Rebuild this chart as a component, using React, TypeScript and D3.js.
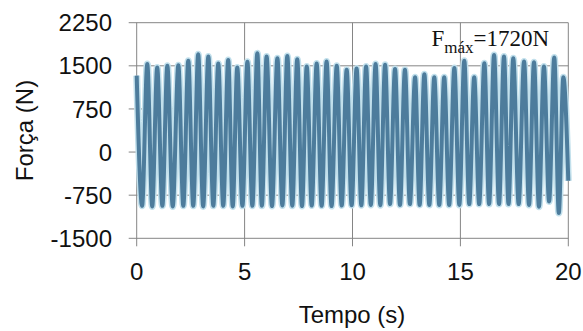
import { useEffect, useRef } from 'react'
import * as d3 from 'd3'

const xTicks = [0, 5, 10, 15, 20]
const yTicks = [-1500, -750, 0, 750, 1500, 2250]

// peak times (s) and forces (N)
const peakTimes = [
  0, 0.49, 0.95, 1.42, 1.93, 2.39, 2.85, 3.32, 3.78, 4.24, 4.66, 5.13, 5.59, 6.02, 6.52,
  6.98, 7.44, 7.88, 8.34, 8.8, 9.27, 9.73, 10.19, 10.63, 11.07, 11.51, 11.97, 12.43, 12.9,
  13.33, 13.79, 14.25, 14.72, 15.18, 15.64, 16.11, 16.56, 17.02, 17.45, 17.95, 18.41,
  18.87, 19.35, 19.77,
]
const peakValues = [
  1330, 1530, 1470, 1500, 1510, 1590, 1700, 1660, 1540, 1600, 1470, 1570, 1720, 1660, 1630,
  1670, 1615, 1490, 1540, 1575, 1500, 1430, 1455, 1490, 1530, 1520, 1445, 1430, 1300,
  1355, 1300, 1300, 1460, 1590, 1300, 1545, 1690, 1660, 1630, 1575, 1560, 1490, 1645, 1300,
]

const troughTimes = [
  0.25, 0.72, 1.19, 1.67, 2.16, 2.62, 3.08, 3.55, 4.01, 4.45, 4.9, 5.36, 5.8, 6.27, 6.75,
  7.21, 7.66, 8.11, 8.57, 9.03, 9.5, 9.96, 10.41, 10.85, 11.29, 11.74, 12.2, 12.66, 13.11,
  13.56, 14.02, 14.48, 14.95, 15.41, 15.87, 16.33, 16.79, 17.23, 17.7, 18.18, 18.64,
  19.11, 19.56,
]
const troughValues = [
  -935, -945, -935, -945, -935, -935, -945, -935, -935, -945, -935, -935, -935, -940, -930,
  -935, -940, -930, -935, -940, -930, -925, -925, -920, -925, -905, -920, -905, -920,
  -920, -920, -920, -920, -905, -905, -905, -905, -905, -905, -920, -950, -860, -1060,
]

const endTime = 20
const endValue = -500

export default function App() {
  const svgRef = useRef<SVGSVGElement>(null)
  const width = 583
  const height = 331

  useEffect(() => {
    if (!svgRef.current) return
    const svg = d3.select(svgRef.current)
    svg.selectAll('*').remove()

    const x = d3.scaleLinear().domain([0, 20]).range([136.7, 568.3])
    const y = d3.scaleLinear().domain([-1500, 2250]).range([238.3, 22.7])

    const gridColor = '#858585'
    const font = 'Liberation Sans, Arial, sans-serif'

    // horizontal gridlines
    svg
      .append('g')
      .selectAll('line')
      .data(yTicks)
      .enter()
      .append('line')
      .attr('x1', x(0) - 8)
      .attr('x2', x(20))
      .attr('y1', (d) => y(d))
      .attr('y2', (d) => y(d))
      .attr('stroke', gridColor)
      .attr('stroke-width', 1)

    // vertical gridlines + ticks
    svg
      .append('g')
      .selectAll('line')
      .data(xTicks)
      .enter()
      .append('line')
      .attr('x1', (d) => x(d))
      .attr('x2', (d) => x(d))
      .attr('y1', y(2250))
      .attr('y2', y(-1500) + 8)
      .attr('stroke', gridColor)
      .attr('stroke-width', 1)

    const pts: [number, number][] = []
    peakTimes.forEach((t, i) => pts.push([t, peakValues[i]]))
    troughTimes.forEach((t, i) => pts.push([t, troughValues[i]]))
    pts.push([endTime, endValue])
    pts.sort((a, b) => a[0] - b[0])

    const line = d3
      .line<[number, number]>()
      .x((d) => x(d[0]))
      .y((d) => y(d[1]))
      .curve(d3.curveMonotoneX)

    svg
      .append('path')
      .datum(pts)
      .attr('d', line)
      .attr('fill', 'none')
      .attr('stroke', '#c2e0ec')
      .attr('stroke-width', 7)
      .attr('stroke-linejoin', 'round')

    svg
      .append('path')
      .datum(pts)
      .attr('d', line)
      .attr('fill', 'none')
      .attr('stroke', '#4d7c9c')
      .attr('stroke-width', 4)
      .attr('stroke-linejoin', 'round')

    // y tick labels
    svg
      .append('g')
      .selectAll('text')
      .data(yTicks)
      .enter()
      .append('text')
      .attr('x', 112)
      .attr('y', (d) => y(d))
      .attr('dy', '0.36em')
      .attr('text-anchor', 'end')
      .style('font-family', font)
      .style('font-size', '24px')
      .style('fill', '#111')
      .text((d) => d)

    // x tick labels
    svg
      .append('g')
      .selectAll('text')
      .data(xTicks)
      .enter()
      .append('text')
      .attr('x', (d) => x(d))
      .attr('y', 280)
      .attr('text-anchor', 'middle')
      .style('font-family', font)
      .style('font-size', '24px')
      .style('fill', '#111')
      .text((d) => d)

    svg
      .append('text')
      .attr('x', 352)
      .attr('y', 323)
      .attr('text-anchor', 'middle')
      .style('font-family', font)
      .style('font-size', '24px')
      .style('fill', '#111')
      .text('Tempo (s)')

    svg
      .append('text')
      .attr('transform', `translate(33,130.5) rotate(-90)`)
      .attr('text-anchor', 'middle')
      .style('font-family', font)
      .style('font-size', '24px')
      .style('fill', '#111')
      .text('Força (N)')

    const ann = svg
      .append('text')
      .attr('x', 431.5)
      .attr('y', 46)
      .style('font-family', 'Liberation Serif, Times New Roman, serif')
      .style('font-size', '23px')
      .style('fill', '#111')
    ann.append('tspan').text('F')
    ann.append('tspan').attr('dy', 7).style('font-size', '17px').text('máx')
    ann.append('tspan').attr('dy', -7).text('=1720N')
  }, [])

  return (
    <svg
      ref={svgRef}
      width={width}
      height={height}
      style={{ position: 'absolute', left: 0, top: 0, background: '#fff' }}
    />
  )
}
